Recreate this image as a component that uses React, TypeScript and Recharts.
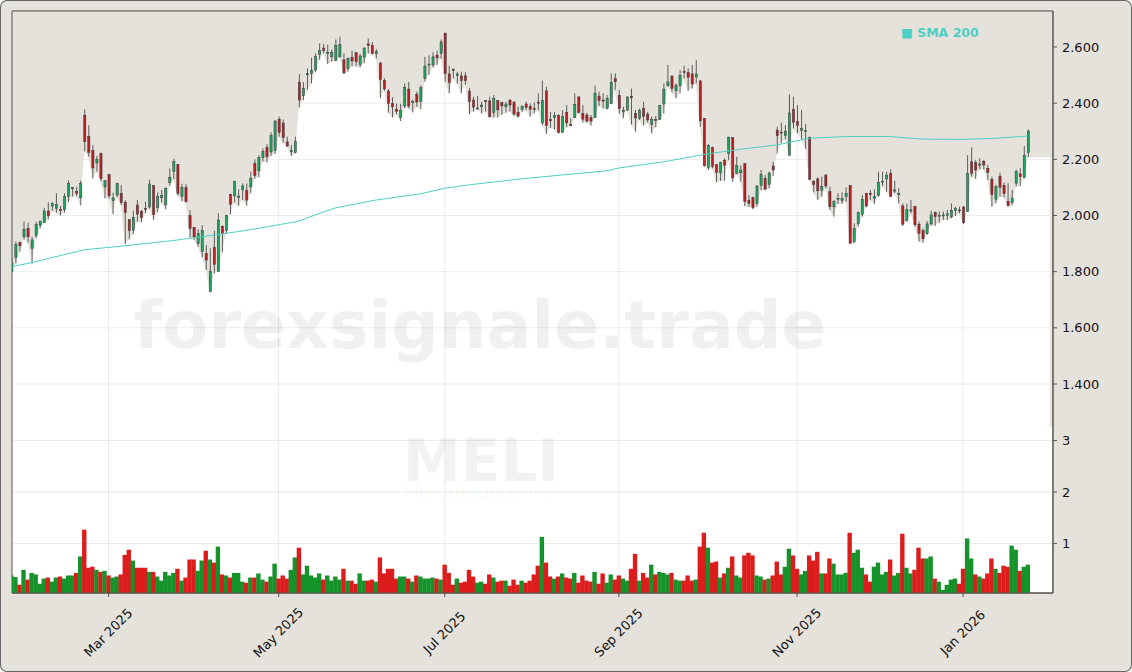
import {
  Area,
  Bar,
  CartesianGrid,
  ComposedChart,
  Line,
  ReferenceArea,
  XAxis,
  YAxis,
} from 'recharts';

const opens = [
  1800, 1851, 1904, 1924, 1954, 1882, 1928, 1966, 1975, 2016, 2034, 2025, 2022, 2021, 2068, 2095, 2086, 2063, 2357, 2282,
  2232, 2187, 2221, 2102, 2146, 2053, 2073, 2079, 2047, 1986, 1948, 2037, 2015, 2025, 2030, 2107, 2028, 2063, 2038, 2117,
  2156, 2182, 2068, 2100, 2000, 1958, 1901, 1871, 1865, 1729, 1886, 1800, 1962, 1946, 2075, 2070, 2065, 2092, 2089, 2102,
  2186, 2159, 2206, 2243, 2226, 2231, 2343, 2329, 2262, 2227, 2224, 2475, 2427, 2501, 2506, 2518, 2573, 2596, 2576, 2565,
  2551, 2565, 2554, 2524, 2563, 2580, 2538, 2564, 2611, 2606, 2576, 2543, 2481, 2443, 2399, 2378, 2348, 2390, 2450, 2402,
  2431, 2405, 2488, 2536, 2536, 2571, 2577, 2649, 2504, 2520, 2498, 2497, 2497, 2443, 2411, 2379, 2387, 2410, 2408, 2367,
  2409, 2402, 2387, 2411, 2404, 2367, 2378, 2397, 2388, 2381, 2404, 2330, 2444, 2342, 2348, 2356, 2296, 2367, 2324, 2348,
  2422, 2363, 2358, 2349, 2348, 2425, 2411, 2380, 2399, 2488, 2428, 2369, 2375, 2424, 2363, 2346, 2382, 2361, 2325, 2342,
  2343, 2397, 2462, 2496, 2444, 2462, 2513, 2509, 2504, 2493, 2479, 2346, 2171, 2242, 2182, 2152, 2197, 2221, 2277, 2150,
  2152, 2185, 2054, 2064, 2042, 2106, 2132, 2111, 2176, 2304, 2297, 2284, 2214, 2378, 2335, 2302, 2299, 2278, 2122, 2130,
  2090, 2144, 2086, 2031, 2058, 2054, 2067, 2107, 1907, 1972, 2004, 2079, 2079, 2060, 2071, 2120, 2130, 2150, 2087, 2077,
  2034, 1982, 2016, 2033, 1969, 1947, 1935, 1970, 2011, 1998, 2000, 2000, 1995, 2017, 2020, 2030, 2014, 2191, 2188, 2179,
  2193, 2168, 2129, 2058, 2139, 2107, 2050, 2046, 2115, 2148, 2136, 2224,
];
const highs = [
  1851, 1907, 1907, 1979, 1974, 1924, 1977, 1981, 2027, 2047, 2047, 2079, 2034, 2079, 2125, 2102, 2102, 2124, 2378, 2321,
  2250, 2212, 2224, 2126, 2148, 2081, 2117, 2108, 2055, 1986, 2017, 2055, 2019, 2049, 2127, 2108, 2082, 2091, 2100, 2167,
  2202, 2183, 2113, 2111, 2019, 1958, 1951, 1966, 1895, 1883, 1946, 2008, 1964, 2002, 2078, 2123, 2093, 2114, 2114, 2156,
  2200, 2215, 2239, 2254, 2296, 2340, 2352, 2342, 2281, 2251, 2281, 2503, 2475, 2524, 2562, 2577, 2613, 2611, 2609, 2592,
  2627, 2637, 2577, 2562, 2587, 2581, 2575, 2599, 2630, 2618, 2593, 2546, 2488, 2450, 2421, 2399, 2398, 2470, 2476, 2413,
  2441, 2463, 2565, 2571, 2581, 2587, 2627, 2651, 2533, 2524, 2512, 2512, 2510, 2453, 2423, 2425, 2405, 2411, 2423, 2429,
  2411, 2405, 2405, 2413, 2405, 2387, 2393, 2405, 2399, 2403, 2435, 2480, 2458, 2369, 2369, 2361, 2375, 2393, 2346, 2435,
  2425, 2393, 2366, 2358, 2462, 2441, 2435, 2429, 2506, 2506, 2447, 2387, 2423, 2452, 2375, 2381, 2405, 2369, 2352, 2354,
  2393, 2470, 2536, 2500, 2470, 2518, 2533, 2524, 2536, 2553, 2482, 2347, 2254, 2245, 2183, 2191, 2203, 2280, 2278, 2209,
  2179, 2185, 2073, 2067, 2108, 2162, 2144, 2156, 2191, 2316, 2331, 2322, 2431, 2423, 2393, 2376, 2326, 2281, 2126, 2136,
  2138, 2147, 2103, 2055, 2079, 2082, 2100, 2109, 1972, 2014, 2073, 2081, 2091, 2093, 2156, 2156, 2156, 2164, 2124, 2097,
  2043, 2043, 2055, 2034, 1978, 1954, 1980, 2017, 2014, 2014, 2014, 2020, 2043, 2031, 2031, 2034, 2215, 2243, 2198, 2204,
  2198, 2180, 2138, 2109, 2152, 2117, 2115, 2091, 2164, 2168, 2247, 2307,
];
const lows = [
  1800, 1829, 1871, 1915, 1903, 1829, 1919, 1954, 1974, 1986, 2017, 2010, 2000, 2010, 2047, 2067, 2068, 2036, 2228, 2209,
  2132, 2156, 2121, 2061, 2061, 2004, 2065, 2037, 1898, 1915, 1933, 1978, 1975, 2008, 2024, 1984, 2011, 2046, 2022, 2105,
  2129, 2070, 2051, 2046, 1922, 1913, 1889, 1851, 1806, 1726, 1794, 1800, 1869, 1936, 2004, 2046, 2034, 2055, 2035, 2079,
  2131, 2136, 2192, 2189, 2212, 2219, 2281, 2259, 2245, 2212, 2221, 2385, 2411, 2447, 2470, 2510, 2554, 2577, 2539, 2548,
  2551, 2562, 2503, 2512, 2531, 2531, 2527, 2542, 2577, 2574, 2559, 2417, 2444, 2366, 2349, 2360, 2336, 2383, 2381, 2367,
  2387, 2378, 2476, 2500, 2527, 2536, 2559, 2476, 2435, 2488, 2470, 2435, 2465, 2360, 2370, 2376, 2364, 2370, 2349, 2349,
  2349, 2358, 2366, 2370, 2355, 2348, 2369, 2375, 2352, 2363, 2375, 2322, 2290, 2312, 2306, 2292, 2295, 2314, 2317, 2346,
  2363, 2331, 2331, 2320, 2348, 2390, 2381, 2378, 2397, 2447, 2363, 2346, 2373, 2324, 2298, 2340, 2320, 2331, 2292, 2314,
  2340, 2363, 2458, 2438, 2417, 2435, 2488, 2444, 2452, 2470, 2316, 2174, 2162, 2168, 2118, 2123, 2124, 2197, 2120, 2147,
  2120, 2033, 2031, 2022, 2031, 2090, 2090, 2096, 2141, 2221, 2257, 2271, 2213, 2310, 2293, 2271, 2237, 2126, 2082, 2055,
  2067, 2097, 2020, 1996, 2041, 2041, 2049, 1901, 1901, 1960, 1996, 2029, 2055, 2041, 2067, 2105, 2085, 2067, 2079, 2043,
  1963, 1978, 2008, 1960, 1907, 1903, 1931, 1964, 1963, 1974, 1984, 1984, 1990, 1998, 2008, 1970, 2014, 2138, 2130, 2164,
  2164, 2126, 2031, 2043, 2067, 2065, 2031, 2036, 2103, 2105, 2132, 2207,
];
const closes = [
  1829, 1897, 1892, 1951, 1924, 1913, 1968, 1980, 2016, 1999, 2043, 2040, 2017, 2068, 2114, 2100, 2078, 2114, 2263, 2224,
  2169, 2201, 2131, 2125, 2070, 2062, 2114, 2046, 2010, 1946, 1993, 2005, 1992, 2023, 2112, 2003, 2068, 2072, 2097, 2136,
  2193, 2078, 2100, 2049, 1953, 1924, 1936, 1946, 1841, 1800, 1826, 1984, 1936, 2000, 2040, 2121, 2069, 2105, 2055, 2132,
  2142, 2207, 2228, 2209, 2285, 2336, 2295, 2278, 2247, 2232, 2264, 2411, 2453, 2506, 2517, 2567, 2588, 2587, 2581, 2581,
  2606, 2609, 2508, 2559, 2550, 2548, 2568, 2596, 2605, 2576, 2584, 2484, 2451, 2399, 2387, 2370, 2374, 2456, 2390, 2406,
  2404, 2456, 2532, 2539, 2565, 2561, 2618, 2505, 2473, 2516, 2504, 2480, 2480, 2405, 2386, 2383, 2393, 2405, 2352, 2417,
  2376, 2390, 2397, 2393, 2361, 2354, 2388, 2385, 2378, 2378, 2399, 2409, 2320, 2337, 2356, 2295, 2353, 2330, 2320, 2396,
  2367, 2343, 2336, 2336, 2435, 2409, 2407, 2417, 2474, 2476, 2380, 2375, 2422, 2419, 2347, 2374, 2352, 2340, 2342, 2341,
  2392, 2450, 2476, 2452, 2464, 2499, 2512, 2492, 2468, 2504, 2337, 2177, 2249, 2174, 2153, 2189, 2179, 2279, 2134, 2178,
  2162, 2049, 2043, 2028, 2105, 2146, 2094, 2151, 2162, 2284, 2295, 2300, 2365, 2332, 2320, 2310, 2302, 2129, 2110, 2088,
  2103, 2105, 2031, 2050, 2061, 2061, 2079, 1901, 1954, 2011, 2058, 2034, 2074, 2068, 2118, 2122, 2144, 2067, 2091, 2079,
  1969, 2022, 2020, 1967, 1936, 1917, 1970, 2002, 1996, 2001, 2002, 2006, 2018, 2026, 2018, 1974, 2150, 2150, 2162, 2183,
  2180, 2154, 2075, 2103, 2100, 2078, 2035, 2062, 2156, 2138, 2214, 2300,
];
const volumes = [
  0.38, 0.35, 0.2, 0.49, 0.3, 0.43, 0.4, 0.22, 0.32, 0.34, 0.26, 0.34, 0.36, 0.32, 0.38, 0.38, 0.43, 0.75, 1.27, 0.53,
  0.55, 0.49, 0.45, 0.47, 0.38, 0.34, 0.36, 0.4, 0.78, 0.88, 0.67, 0.53, 0.53, 0.53, 0.45, 0.45, 0.36, 0.28, 0.45, 0.38,
  0.43, 0.51, 0.28, 0.34, 0.69, 0.69, 0.47, 0.67, 0.86, 0.69, 0.63, 0.94, 0.4, 0.38, 0.34, 0.43, 0.43, 0.26, 0.24, 0.34,
  0.34, 0.42, 0.3, 0.26, 0.36, 0.61, 0.32, 0.38, 0.32, 0.49, 0.73, 0.92, 0.4, 0.57, 0.38, 0.34, 0.42, 0.3, 0.38, 0.28,
  0.36, 0.3, 0.51, 0.28, 0.28, 0.22, 0.42, 0.28, 0.28, 0.3, 0.26, 0.73, 0.42, 0.51, 0.51, 0.32, 0.36, 0.36, 0.32, 0.26,
  0.38, 0.36, 0.32, 0.32, 0.34, 0.32, 0.3, 0.59, 0.43, 0.2, 0.32, 0.24, 0.26, 0.49, 0.36, 0.24, 0.26, 0.22, 0.4, 0.34,
  0.26, 0.28, 0.28, 0.18, 0.3, 0.2, 0.28, 0.24, 0.28, 0.4, 0.57, 1.13, 0.63, 0.36, 0.32, 0.36, 0.42, 0.34, 0.32, 0.43,
  0.24, 0.38, 0.28, 0.26, 0.45, 0.22, 0.42, 0.24, 0.4, 0.3, 0.38, 0.32, 0.28, 0.51, 0.8, 0.28, 0.43, 0.34, 0.59, 0.4,
  0.45, 0.43, 0.4, 0.43, 0.3, 0.28, 0.28, 0.38, 0.28, 0.3, 0.94, 1.21, 0.92, 0.63, 0.65, 0.34, 0.42, 0.53, 0.75, 0.38,
  0.34, 0.77, 0.82, 0.77, 0.38, 0.36, 0.3, 0.32, 0.38, 0.65, 0.4, 0.55, 0.9, 0.77, 0.51, 0.4, 0.47, 0.77, 0.67, 0.84,
  0.42, 0.42, 0.71, 0.61, 0.4, 0.4, 0.43, 1.21, 0.82, 0.88, 0.53, 0.4, 0.26, 0.55, 0.63, 0.4, 0.45, 0.69, 0.38, 0.43,
  1.19, 0.53, 0.42, 0.49, 0.92, 0.71, 0.71, 0.75, 0.32, 0.26, 0.1, 0.2, 0.3, 0.32, 0.22, 0.51, 1.1, 0.71, 0.4, 0.36,
  0.32, 0.42, 0.71, 0.51, 0.43, 0.57, 0.55, 0.96, 0.88, 0.47, 0.55, 0.59,
];
// one letter per session, g = green volume bar, r = red
const volumeColors =
  'ggrgrggggr' + 'ggrgggrgrr' + 'rgrgrggrrr' + 'grrrgrgggg' + 'grgrrrggrg' +
  'rgrgrgggrg' + 'rggrggrrrg' + 'grgggggrgg' + 'ggrgrrggrr' + 'grrrrrggrg' +
  'rggggrgrrr' + 'grrrrggrrg' + 'rrgrrrgrrr' + 'rgrrgrgrrg' + 'rrrrgrrggr' +
  'rggrrgrrgr' + 'gggrggrrrg' + 'rrgrrgrgrg' + 'grrrggrgrr' + 'rggrrggrrr' +
  'grrggggrgg' + 'grrggggrgg' + 'rggrrrggrg' + 'ggggrrggrg' + 'rrrgrrrggr' + 'gg';

const smaDays = [0, 5, 10, 18, 28, 40, 52, 61, 71, 75, 80, 90, 101, 107, 113, 125, 135, 147, 150, 161, 171, 180, 189, 197, 206, 217, 225, 235, 243, 251];
const smaValues = [1818, 1832, 1850, 1878, 1892, 1911, 1934, 1954, 1980, 2002, 2027, 2055, 2077, 2097, 2109, 2129, 2143, 2159, 2169, 2191, 2217, 2236, 2251, 2275, 2281, 2281, 2272, 2271, 2275, 2283];

const dateTicks = [24, 66, 107, 150, 194, 235];
const dateLabels = ['Mar 2025', 'May 2025', 'Jul 2025', 'Sep 2025', 'Nov 2025', 'Jan 2026'];
const priceTicks = [1400, 1600, 1800, 2000, 2200, 2400, 2600];
const volumeTicks = [1, 2, 3];

const lastDay = 257.2;
const priceMin = 656;
const priceMax = 2728;
const volMin = 0.04;
const volMax = 11.34;
const tailRidge = 2207;
const stripBottom = 1247;
const stripDay = 256.4;

const FRAME = '#e5e2dc';
const FONT = '"DejaVu Sans", sans-serif';
const GRID = 'rgba(0,0,0,0.08)';

const rows: any[] = opens.map((open, i) => {
  const smaAt = smaDays.indexOf(i);
  return {
    day: i,
    open,
    high: highs[i],
    low: lows[i],
    close: closes[i],
    range: [lows[i], highs[i]],
    ridge: [lows[i], priceMax],
    volume: volumes[i],
    volumeColor: volumeColors[i],
    sma: smaAt >= 0 ? smaValues[smaAt] : null,
  };
});
rows.push({ day: lastDay, ridge: [tailRidge, priceMax] });

const Candle = (props: any) => {
  const { x, y, width, height, payload } = props;
  if (!payload || payload.high === undefined) return null;
  const span = payload.high - payload.low || 1;
  const perUnit = height / span;
  const top = y + (payload.high - Math.max(payload.open, payload.close)) * perUnit;
  const bottom = y + (payload.high - Math.min(payload.open, payload.close)) * perUnit;
  const mid = x + width / 2;
  const up = payload.close >= payload.open;
  return (
    <g>
      <line x1={mid} x2={mid} y1={y} y2={y + height} stroke="#3a3a3a" strokeWidth={0.8} />
      <rect
        x={mid - 1.1}
        y={top}
        width={2.2}
        height={Math.max(bottom - top, 1)}
        fill={up ? '#1fa560' : '#b81f24'}
        stroke="#3a3a3a"
        strokeWidth={0.5}
      />
    </g>
  );
};

const VolumeBar = (props: any) => {
  const { x, y, width, height, payload } = props;
  if (!payload || payload.volume === undefined) return null;
  return (
    <rect
      x={x - 0.2}
      y={y}
      width={width + 0.4}
      height={height}
      fill={payload.volumeColor === 'g' ? '#15932a' : '#dd1c1c'}
    />
  );
};

const DateTick = ({ x, y, payload }: any) => {
  const label = dateLabels[dateTicks.indexOf(payload.value)];
  const cy = y + 34;
  return (
    <text
      x={x}
      y={cy}
      dy={4}
      textAnchor="middle"
      transform={`rotate(-45 ${x} ${cy})`}
      fontSize={13}
      fontFamily={FONT}
      fill="#111"
    >
      {label}
    </text>
  );
};

const priceLabel = (v: number) => v.toLocaleString('de-DE');

export default function App() {
  const axisStroke = '#555';
  const tickStyle = { fontSize: 13, fontFamily: FONT, fill: '#111' };
  return (
    <div
      style={{
        position: 'fixed',
        left: 0,
        top: 0,
        width: 1132,
        height: 672,
        background: FRAME,
        borderRadius: 7,
        boxShadow: 'inset 0 0 0 1px #666',
        overflow: 'hidden',
      }}
    >
      <ComposedChart
        width={1132}
        height={672}
        data={rows}
        margin={{ top: 11, right: 79, bottom: 0, left: 12 }}
        style={{ position: 'absolute', left: 0, top: 0 }}
      >
        <XAxis
          xAxisId="main"
          dataKey="day"
          type="number"
          domain={[0.15, lastDay]}
          allowDataOverflow
          ticks={dateTicks}
          tick={<DateTick />}
          interval={0}
          height={79}
          tickSize={4}
          stroke={axisStroke}
        />
        <XAxis xAxisId="vol" dataKey="day" type="number" domain={[0.15, lastDay]} allowDataOverflow hide />
        <YAxis
          yAxisId="vol"
          orientation="right"
          domain={[volMin, volMax]}
          ticks={volumeTicks}
          interval={0}
          width={0.01}
          axisLine={false}
          tickSize={4}
          tickMargin={5}
          tick={tickStyle}
          stroke={axisStroke}
        />
        <YAxis
          yAxisId="price"
          orientation="right"
          domain={[priceMin, priceMax]}
          ticks={priceTicks}
          interval={0}
          width={0.01}
          tickSize={4}
          tickMargin={5}
          tick={tickStyle}
          tickFormatter={priceLabel}
          stroke={axisStroke}
        />
        <CartesianGrid xAxisId="main" yAxisId="price" fill="#fff" stroke="none" />
        <Area
          xAxisId="main"
          yAxisId="price"
          dataKey="ridge"
          type="linear"
          fill={FRAME}
          fillOpacity={1}
          stroke="none"
          dot={false}
          activeDot={false}
          isAnimationActive={false}
        />
        <ReferenceArea
          xAxisId="main"
          yAxisId="price"
          x1={stripDay}
          x2={lastDay}
          y1={stripBottom}
          y2={tailRidge}
          fill="#e8e6e1"
          fillOpacity={1}
          stroke="none"
        />
        <CartesianGrid xAxisId="main" yAxisId="price" fill="none" stroke={GRID} verticalValues={dateTicks} />
        <CartesianGrid xAxisId="main" yAxisId="vol" fill="none" stroke={GRID} vertical={false} />
        <Bar xAxisId="vol" yAxisId="vol" dataKey="volume" barSize={4} shape={<VolumeBar />} isAnimationActive={false} />
        <Line
          xAxisId="main"
          yAxisId="price"
          dataKey="sma"
          type="linear"
          stroke="#4dd0c4"
          strokeWidth={1}
          dot={false}
          activeDot={false}
          connectNulls
          isAnimationActive={false}
        />
        <Bar xAxisId="main" yAxisId="price" dataKey="range" barSize={3} shape={<Candle />} isAnimationActive={false} />
        <ReferenceArea
          xAxisId="main"
          yAxisId="price"
          x1={0.15}
          x2={lastDay}
          y1={priceMin}
          y2={priceMax}
          fill="none"
          stroke={axisStroke}
          strokeWidth={1}
        />
      </ComposedChart>
      <svg width={1132} height={672} style={{ position: 'absolute', left: 0, top: 0, pointerEvents: 'none' }}>
        <text x={480} y={348} textAnchor="middle" fontFamily={FONT} fontWeight="bold" fontSize={66.5} fill="rgba(0,0,0,0.06)">
          forexsignale.trade
        </text>
        <text x={481} y={481} textAnchor="middle" fontFamily={FONT} fontWeight="bold" fontSize={58} fill="rgba(0,0,0,0.05)">
          MELI
        </text>
        <text
          x={404}
          y={497}
          textLength={154}
          lengthAdjust="spacingAndGlyphs"
          fontFamily={FONT}
          fontSize={14}
          fill="rgba(0,0,0,0.035)"
        >
          MercadoLibre, Inc.
        </text>
        <text x={901} y={37} fontFamily={FONT} fontWeight="bold" fontSize={12.5} fill="#4dd0c4">
          ■ SMA 200
        </text>
        <text transform="translate(1086 512) rotate(-90)" textAnchor="middle" fontFamily={FONT} fontSize={13} fill="rgba(0,0,0,0.02)">
          Volumen
        </text>
        <text transform="translate(1105 507) rotate(-90)" textAnchor="middle" fontFamily={FONT} fontSize={13} fill="rgba(0,0,0,0.02)">
          Mio.
        </text>
        <text transform="translate(1119 222) rotate(-90)" textAnchor="middle" fontFamily={FONT} fontSize={13} fill="rgba(0,0,0,0.02)">
          Kurs
        </text>
      </svg>
    </div>
  );
}
